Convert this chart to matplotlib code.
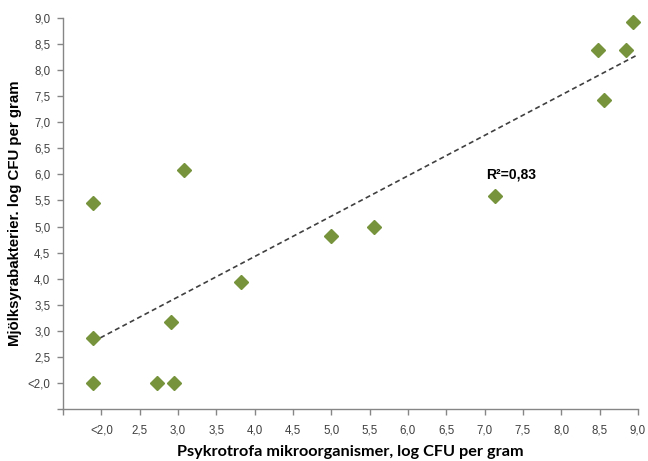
import matplotlib
matplotlib.use("Agg")
import matplotlib.pyplot as plt
import numpy as np

# Data (log CFU per gram)
psykrotrofa = [1.89, 1.89, 1.89, 2.73, 2.95, 2.91, 3.08, 3.82, 5.00, 5.55, 7.13, 8.48, 8.84, 8.94, 8.55]
mjolksyra   = [2.00, 2.86, 5.45, 2.00, 2.00, 3.17, 6.09, 3.94, 4.82, 4.99, 5.59, 8.39, 8.39, 8.93, 7.43]

# Trend line (as drawn in the reference)
trend_x = [1.89, 8.99]
trend_y = [2.79, 8.29]
r2_label = "R²=0,83"

tick_vals = [1.5, 2.0, 2.5, 3.0, 3.5, 4.0, 4.5, 5.0, 5.5, 6.0, 6.5, 7.0, 7.5, 8.0, 8.5, 9.0]
tick_labels = ["", "<2,0", "2,5", "3,0", "3,5", "4,0", "4,5", "5,0", "5,5", "6,0",
               "6,5", "7,0", "7,5", "8,0", "8,5", "9,0"]

xlabel = "Psykrotrofa mikroorganismer, log CFU per gram"
ylabel = "Mjölksyrabakterier. log CFU per gram"

fig = plt.figure(figsize=(6.48, 4.61), dpi=100)
ax = fig.add_axes([63/648, 52/461, 575/648, 391/461])

ax.plot(trend_x, trend_y, linestyle=(0, (3, 2)), color="#404040", linewidth=1.2, zorder=2)
ax.plot(psykrotrofa, mjolksyra, linestyle="none", marker="D", markersize=7.5,
        color="#77933C", markeredgecolor="#77933C", zorder=3, clip_on=False)

ax.set_xlim(1.5, 9.0)
ax.set_ylim(1.5, 9.0)
ax.set_xticks(tick_vals)
ax.set_xticklabels(tick_labels)
ax.set_yticks(tick_vals)
ax.set_yticklabels(tick_labels)

for s in ["top", "right"]:
    ax.spines[s].set_visible(False)
for s in ["left", "bottom"]:
    ax.spines[s].set_color("#868686")
    ax.spines[s].set_linewidth(1.0)

ax.tick_params(axis="both", direction="out", color="#868686", length=4, width=1,
               labelsize=8.3, labelcolor="#404040")
ax.tick_params(axis="x", pad=7)
ax.tick_params(axis="y", pad=5)
for lab in ax.get_xticklabels() + ax.get_yticklabels():
    lab.set_fontfamily("Liberation Sans")

ax.set_xlabel(xlabel, fontfamily="Lato", fontweight="bold", fontsize=11.7,
              color="#000000", labelpad=6)
ax.set_ylabel(ylabel, fontfamily="Liberation Sans", fontweight="bold", fontsize=10.8,
              color="#000000", labelpad=4)

ax.text(7.02, 5.99, r2_label, fontfamily="Liberation Sans", fontweight="bold",
        fontsize=10, ha="left", va="center", color="#000000")

fig.savefig("out.png", dpi=100)
